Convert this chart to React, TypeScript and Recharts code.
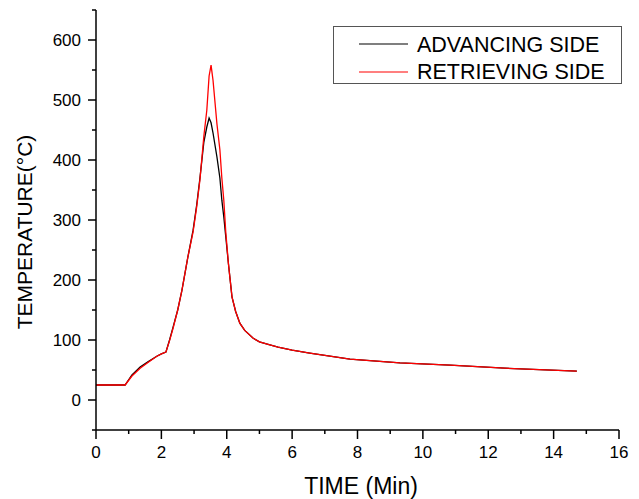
import React from "react";
import { Line, LineChart, XAxis, YAxis } from "recharts";

const time = [
  0, 0.5, 0.89, 1.1, 1.35, 1.6, 1.86, 2.0, 2.14, 2.25, 2.36, 2.5, 2.63, 2.81,
  2.97, 3.08, 3.18, 3.3, 3.39, 3.46, 3.52, 3.58, 3.7, 3.79, 3.85, 3.91, 3.97,
  4.05, 4.16, 4.27, 4.4, 4.55, 4.81, 5.0, 5.32, 5.57, 6.0, 6.54, 7.77, 9.3,
  10.83, 12.5, 14.71,
];
const advancing = [
  25, 25, 25, 42, 55, 64, 73, 77, 80, 100, 122, 150, 183, 238, 283, 325, 370,
  430, 455, 470, 462, 445, 405, 370, 333, 305, 272, 228, 172, 148, 128, 116,
  103, 97, 92, 88, 83, 78, 68, 62, 58, 53, 48,
];
const retrieving = [
  25, 25, 25, 40, 53, 63, 73, 77, 80, 99, 120, 150, 183, 238, 280, 322, 367,
  440, 483, 540, 558, 533, 460, 417, 370, 333, 280, 228, 172, 148, 128, 116,
  103, 97, 92, 88, 83, 78, 68, 62, 58, 53, 48,
];

const xTicks = [0, 1, 2, 3, 4, 5, 6, 7, 8, 9, 10, 11, 12, 13, 14, 15, 16];
const yTicks = [-50, 0, 50, 100, 150, 200, 250, 300, 350, 400, 450, 500, 550, 600, 650];

const seriesNames = ["ADVANCING SIDE", "RETRIEVING SIDE"];
const seriesColors = ["#000000", "#ff0000"];

const data = time.map((t, i) => ({ t, adv: advancing[i], ret: retrieving[i] }));

const FONT = "'Liberation Sans', Arial, sans-serif";

const XTick = (props: any) => {
  const { x, y, payload } = props;
  const major = payload.value % 2 === 0;
  return (
    <g>
      <line x1={x} y1={y} x2={x} y2={y + (major ? 9 : 4)} stroke="#000" strokeWidth={1.5} />
      {major && (
        <text x={x} y={y + 28} textAnchor="middle" fontSize={17} fontFamily={FONT} fill="#000">
          {payload.value}
        </text>
      )}
    </g>
  );
};

const YTick = (props: any) => {
  const { x, y, payload } = props;
  const major = payload.value % 100 === 0;
  return (
    <g>
      <line x1={x} y1={y} x2={x - (major ? 8 : 4)} y2={y} stroke="#000" strokeWidth={1.5} />
      {major && (
        <text x={x - 15} y={y + 6} textAnchor="end" fontSize={17} fontFamily={FONT} fill="#000">
          {payload.value}
        </text>
      )}
    </g>
  );
};

// legend drawn as an overlay so it doesn't eat plot space
const LegendBox = () => (
  <div
    style={{
      position: "absolute",
      left: 333,
      top: 26,
      width: 289,
      height: 58,
      boxSizing: "border-box",
      border: "1.5px solid #555",
      background: "#fff",
    }}
  >
    <svg width={286} height={55} style={{ display: "block", overflow: "visible" }}>
      {seriesNames.map((name, i) => (
        <g key={name}>
          <line x1={25} x2={74} y1={17 + i * 28} y2={17 + i * 28} stroke={seriesColors[i]} strokeWidth={1.2} />
          <text x={83} y={25 + i * 27} fontSize={21.5} fontFamily={FONT} fill="#000">
            {name}
          </text>
        </g>
      ))}
    </svg>
  </div>
);

export default function App() {
  return (
    <div style={{ position: "absolute", left: 0, top: 0, width: 639, height: 499, background: "#fff" }}>
      <LineChart width={639} height={499} data={data} margin={{ top: 10, right: 20, bottom: 0, left: 10 }}>
        <XAxis
          dataKey="t"
          type="number"
          domain={[0, 16]}
          ticks={xTicks}
          interval={0}
          tickSize={0}
          tickMargin={0}
          tickLine={false}
          tick={<XTick />}
          height={69}
          axisLine={{ stroke: "#000", strokeWidth: 1.5 }}
          allowDataOverflow
        />
        <YAxis
          type="number"
          domain={[-50, 650]}
          ticks={yTicks}
          interval={0}
          tickSize={0}
          tickMargin={0}
          tickLine={false}
          tick={<YTick />}
          width={86}
          axisLine={{ stroke: "#000", strokeWidth: 1.5 }}
          allowDataOverflow
        />
        <Line
          type="linear"
          dataKey="adv"
          name={seriesNames[0]}
          stroke={seriesColors[0]}
          strokeWidth={1.3}
          dot={false}
          isAnimationActive={false}
        />
        <Line
          type="linear"
          dataKey="ret"
          name={seriesNames[1]}
          stroke={seriesColors[1]}
          strokeWidth={1.3}
          dot={false}
          isAnimationActive={false}
        />
        <text x={361} y={494} textAnchor="middle" fontSize={23} fontFamily={FONT} fill="#000">
          TIME (Min)
        </text>
        <text
          x={32}
          y={232}
          textAnchor="middle"
          fontSize={21}
          fontFamily={FONT}
          fill="#000"
          transform="rotate(-90 32 232)"
        >
          TEMPERATURE(°C)
        </text>
      </LineChart>
      <LegendBox />
    </div>
  );
}
